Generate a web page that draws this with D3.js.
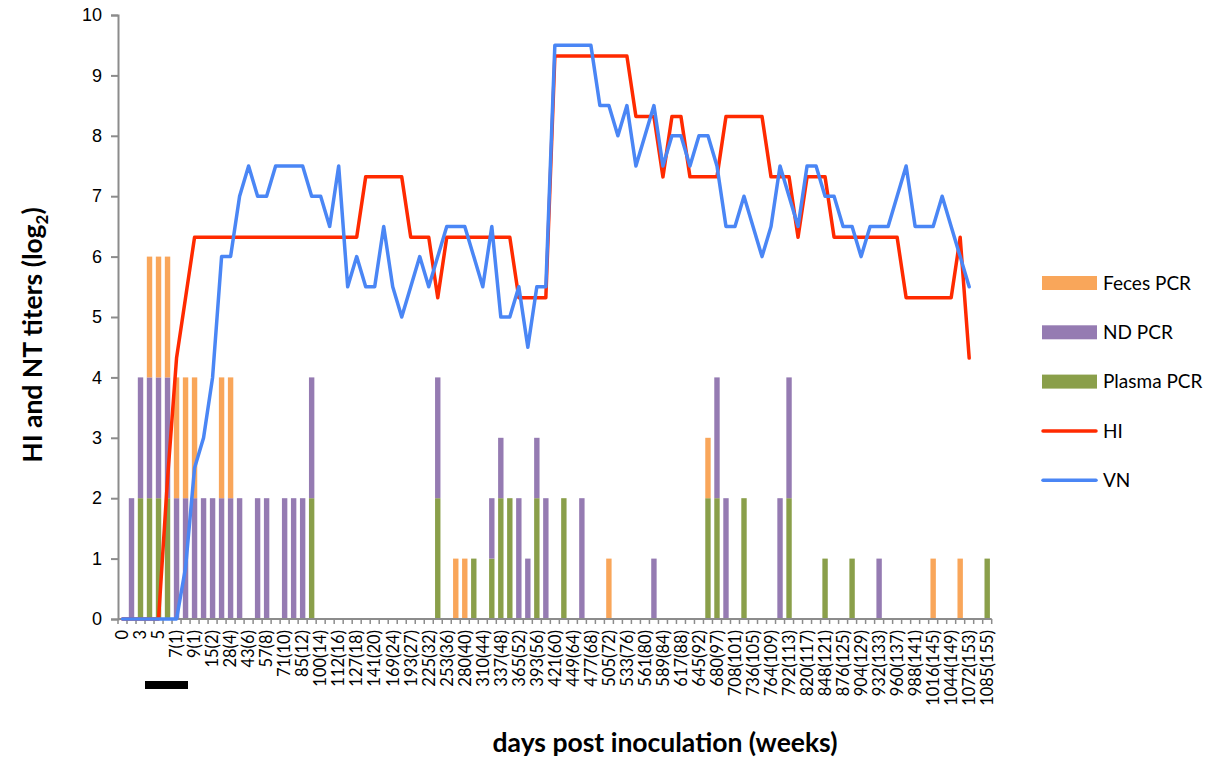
<!DOCTYPE html>
<html>
<head>
<meta charset="utf-8">
<script src="https://cdn.jsdelivr.net/npm/d3@7"></script>
<style>
  body { margin: 0; background: #fff; }
  svg { display: block; font-family: Lato, "Open Sans", sans-serif; }
</style>
</head>
<body>
<div id="chart"></div>
<script>
var width = 1212;
var height = 764;

// categories: days post inoculation (weeks); only every other one is labelled
var days = [
  "0", "1", "3", "4", "5", "6", "7(1)", "8(1)", "9(1)", "12(1)",
  "15(2)", "21(3)", "28(4)", "35(5)", "43(6)", "50(7)", "57(8)", "64(9)", "71(10)", "78(11)",
  "85(12)", "92(13)", "100(14)", "106(15)", "112(16)", "120(17)", "127(18)", "134(19)", "141(20)", "155(22)",
  "169(24)", "181(25)", "193(27)", "211(30)", "225(32)", "239(34)", "253(36)", "266(38)", "280(40)", "295(42)",
  "310(44)", "323(46)", "337(48)", "351(50)", "365(52)", "379(54)", "393(56)", "407(58)", "421(60)", "435(62)",
  "449(64)", "463(66)", "477(68)", "491(70)", "505(72)", "519(74)", "533(76)", "547(78)", "561(80)", "575(82)",
  "589(84)", "603(86)", "617(88)", "631(90)", "645(92)", "666(95)", "680(97)", "694(99)", "708(101)", "722(103)",
  "736(105)", "750(107)", "764(109)", "778(111)", "792(113)", "806(115)", "820(117)", "834(119)", "848(121)", "862(123)",
  "876(125)", "890(127)", "904(129)", "918(131)", "932(133)", "946(135)", "960(137)", "974(139)", "988(141)", "1002(143)",
  "1016(145)", "1030(147)", "1044(149)", "1058(151)", "1072(153)", "1079(154)", "1085(155)"
];

// stacked PCR bars (bottom to top: plasma, ND, feces)
var plasmaPCR = [
  0, 0, 2, 2, 2, 2, 0, 0, 0, 0,
  0, 0, 0, 0, 0, 0, 0, 0, 0, 0,
  0, 2, 0, 0, 0, 0, 0, 0, 0, 0,
  0, 0, 0, 0, 0, 2, 0, 0, 0, 1,
  0, 1, 2, 2, 0, 0, 2, 0, 0, 2,
  0, 0, 0, 0, 0, 0, 0, 0, 0, 0,
  0, 0, 0, 0, 0, 2, 2, 0, 0, 2,
  0, 0, 0, 0, 2, 0, 0, 0, 1, 0,
  0, 1, 0, 0, 0, 0, 0, 0, 0, 0,
  0, 0, 0, 0, 0, 0, 1
];
var ndPCR = [
  0, 2, 2, 2, 2, 2, 2, 2, 2, 2,
  2, 2, 2, 2, 0, 2, 2, 0, 2, 2,
  2, 2, 0, 0, 0, 0, 0, 0, 0, 0,
  0, 0, 0, 0, 0, 2, 0, 0, 0, 0,
  0, 1, 1, 0, 2, 1, 1, 2, 0, 0,
  0, 2, 0, 0, 0, 0, 0, 0, 0, 1,
  0, 0, 0, 0, 0, 0, 2, 2, 0, 0,
  0, 0, 0, 2, 2, 0, 0, 0, 0, 0,
  0, 0, 0, 0, 1, 0, 0, 0, 0, 0,
  0, 0, 0, 0, 0, 0, 0
];
var fecesPCR = [
  0, 0, 0, 2, 2, 2, 2, 2, 2, 0,
  0, 2, 2, 0, 0, 0, 0, 0, 0, 0,
  0, 0, 0, 0, 0, 0, 0, 0, 0, 0,
  0, 0, 0, 0, 0, 0, 0, 1, 1, 0,
  0, 0, 0, 0, 0, 0, 0, 0, 0, 0,
  0, 0, 0, 0, 1, 0, 0, 0, 0, 0,
  0, 0, 0, 0, 0, 1, 0, 0, 0, 0,
  0, 0, 0, 0, 0, 0, 0, 0, 0, 0,
  0, 0, 0, 0, 0, 0, 0, 0, 0, 0,
  1, 0, 0, 1, 0, 0, 0
];

// titer lines (log2)
var hiTiter = [
  0, 0, 0, 0, 0, 2.32, 4.32, 5.32, 6.32, 6.32,
  6.32, 6.32, 6.32, 6.32, 6.32, 6.32, 6.32, 6.32, 6.32, 6.32,
  6.32, 6.32, 6.32, 6.32, 6.32, 6.32, 6.32, 7.32, 7.32, 7.32,
  7.32, 7.32, 6.32, 6.32, 6.32, 5.32, 6.32, 6.32, 6.32, 6.32,
  6.32, 6.32, 6.32, 6.32, 5.32, 5.32, 5.32, 5.32, 9.32, 9.32,
  9.32, 9.32, 9.32, 9.32, 9.32, 9.32, 9.32, 8.32, 8.32, 8.32,
  7.32, 8.32, 8.32, 7.32, 7.32, 7.32, 7.32, 8.32, 8.32, 8.32,
  8.32, 8.32, 7.32, 7.32, 7.32, 6.32, 7.32, 7.32, 7.32, 6.32,
  6.32, 6.32, 6.32, 6.32, 6.32, 6.32, 6.32, 5.32, 5.32, 5.32,
  5.32, 5.32, 5.32, 6.32, 4.32, null, null
];
var vnTiter = [
  0, 0, 0, 0, 0, 0, 0, 0.85, 2.5, 3,
  4, 6, 6, 7, 7.5, 7, 7, 7.5, 7.5, 7.5,
  7.5, 7, 7, 6.5, 7.5, 5.5, 6, 5.5, 5.5, 6.5,
  5.5, 5, 5.5, 6, 5.5, 6, 6.5, 6.5, 6.5, 6,
  5.5, 6.5, 5, 5, 5.5, 4.5, 5.5, 5.5, 9.5, 9.5,
  9.5, 9.5, 9.5, 8.5, 8.5, 8, 8.5, 7.5, 8, 8.5,
  7.5, 8, 8, 7.5, 8, 8, 7.5, 6.5, 6.5, 7,
  6.5, 6, 6.5, 7.5, 7, 6.5, 7.5, 7.5, 7, 7,
  6.5, 6.5, 6, 6.5, 6.5, 6.5, 7, 7.5, 6.5, 6.5,
  6.5, 7, 6.5, 6, 5.5, null, null
];

var yTicks = [0, 1, 2, 3, 4, 5, 6, 7, 8, 9, 10];

var colors = {
  feces: "#F9A65A",
  nd: "#957BB2",
  plasma: "#8A9F4A",
  hi: "#FF2A00",
  vn: "#4A86F5"
};

var margin = { top: 15, right: 221, bottom: 145, left: 118 };

var svg = d3.select("#chart")
    .append("svg")
    .attr("width", width)
    .attr("height", height);

var x = d3.scaleBand()
    .domain(days)
    .range([margin.left, width - margin.right + 0.7])
    .paddingInner(0.4)
    .paddingOuter(0.2);

var y = d3.scaleLinear()
    .domain([0, 10])
    .range([height - margin.bottom, margin.top]);

function cx(d) { return x(d) + x.bandwidth() / 2; }

// build stacked rows
var rows = days.map(function(d, i) {
  return { day: d, plasma: plasmaPCR[i], nd: ndPCR[i], feces: fecesPCR[i] };
});
var stack = d3.stack().keys(["plasma", "nd", "feces"]);
var series = stack(rows);

var bars = svg.append("g");
bars.selectAll("g")
    .data(series)
    .enter()
    .append("g")
    .attr("fill", function(s) { return colors[s.key]; })
    .selectAll("rect")
    .data(function(s) { return s.filter(function(p) { return p[1] > p[0]; }); })
    .enter()
    .append("rect")
    .attr("x", function(p) { return x(p.data.day); })
    .attr("width", x.bandwidth())
    .attr("y", function(p) { return y(p[1]); })
    .attr("height", function(p) { return y(p[0]) - y(p[1]); });

// axes
var axisColor = "#8c8c8c";

var yAxis = svg.append("g")
    .attr("transform", "translate(" + margin.left + ",0)")
    .call(d3.axisLeft(y).tickValues(yTicks).tickSize(7).tickPadding(9).tickFormat(d3.format("d")));
yAxis.select(".domain").attr("stroke", axisColor).attr("stroke-width", 2);
yAxis.selectAll(".tick line").attr("stroke", axisColor).attr("stroke-width", 2);
yAxis.selectAll("text").attr("font-size", 18).attr("fill", "#000");

var xg = svg.append("g");
xg.append("line")
    .attr("x1", margin.left)
    .attr("x2", x.range()[1])
    .attr("y1", y(0))
    .attr("y2", y(0))
    .attr("stroke", axisColor)
    .attr("stroke-width", 2);
// tick marks between categories
xg.selectAll(".xt")
    .data(days)
    .enter()
    .append("line")
    .attr("x1", function(d) { return x(d) - x.step() * 0.2; })
    .attr("x2", function(d) { return x(d) - x.step() * 0.2; })
    .attr("y1", y(0))
    .attr("y2", y(0) + 5)
    .attr("stroke", axisColor)
    .attr("stroke-width", 1.5);
xg.append("line")
    .attr("x1", x.range()[1]).attr("x2", x.range()[1])
    .attr("y1", y(0)).attr("y2", y(0) + 5)
    .attr("stroke", axisColor)
    .attr("stroke-width", 1.5);

xg.selectAll(".xl")
    .data(days.filter(function(d, i) { return i % 2 === 0; }))
    .enter()
    .append("text")
    .attr("transform", function(d) { return "translate(" + cx(d) + "," + (y(0) + 11) + ") rotate(-90)"; })
    .attr("text-anchor", "end")
    .attr("dy", "0.35em")
    .attr("font-size", 16.5)
    .attr("fill", "#000")
    .text(function(d) { return d; });

// lines
var line = d3.line()
    .defined(function(d) { return d.v !== null; })
    .x(function(d) { return cx(d.day); })
    .y(function(d) { return y(d.v); });

svg.append("path")
    .datum(days.map(function(d, i) { return { day: d, v: hiTiter[i] }; }))
    .attr("d", line)
    .attr("fill", "none")
    .attr("stroke", colors.hi)
    .attr("stroke-width", 3.5)
    .attr("stroke-linejoin", "round")
    .attr("stroke-linecap", "round");

svg.append("path")
    .datum(days.map(function(d, i) { return { day: d, v: vnTiter[i] }; }))
    .attr("d", line)
    .attr("fill", "none")
    .attr("stroke", colors.vn)
    .attr("stroke-width", 3.5)
    .attr("stroke-linejoin", "round")
    .attr("stroke-linecap", "round");

// black bar under the inoculation days
svg.append("rect")
    .attr("x", 145)
    .attr("y", 681)
    .attr("width", 43)
    .attr("height", 8)
    .attr("fill", "#000");

// axis titles
svg.append("text")
    .attr("x", 665)
    .attr("y", 752)
    .attr("text-anchor", "middle")
    .attr("font-size", 26.5)
    .attr("font-weight", "bold")
    .text("days post inoculation (weeks)");

var yt = svg.append("text")
    .attr("transform", "translate(42,335) rotate(-90)")
    .attr("text-anchor", "middle")
    .attr("font-size", 26.5)
    .attr("font-weight", "bold");
yt.append("tspan").text("HI and NT titers (log");
yt.append("tspan").attr("font-size", 17).attr("dy", 6).text("2");
yt.append("tspan").attr("dy", -6).text(")");

// legend
var legendItems = [
  { name: "Feces PCR", color: colors.feces, type: "bar" },
  { name: "ND PCR", color: colors.nd, type: "bar" },
  { name: "Plasma PCR", color: colors.plasma, type: "bar" },
  { name: "HI", color: colors.hi, type: "line" },
  { name: "VN", color: colors.vn, type: "line" }
];

var legend = svg.append("g")
    .selectAll("g")
    .data(legendItems)
    .enter()
    .append("g")
    .attr("transform", function(d, i) { return "translate(1042," + (283 + i * 49.3) + ")"; });

legend.filter(function(d) { return d.type === "bar"; })
    .append("rect")
    .attr("x", 0)
    .attr("y", -7)
    .attr("width", 55)
    .attr("height", 14)
    .attr("fill", function(d) { return d.color; });

legend.filter(function(d) { return d.type === "line"; })
    .append("line")
    .attr("x1", 1)
    .attr("x2", 54)
    .attr("stroke", function(d) { return d.color; })
    .attr("stroke-width", 3.5)
    .attr("stroke-linecap", "round");

legend.append("text")
    .attr("x", 61)
    .attr("dy", "0.35em")
    .attr("font-size", 19)
    .text(function(d) { return d.name; });
</script>
</body>
</html>
